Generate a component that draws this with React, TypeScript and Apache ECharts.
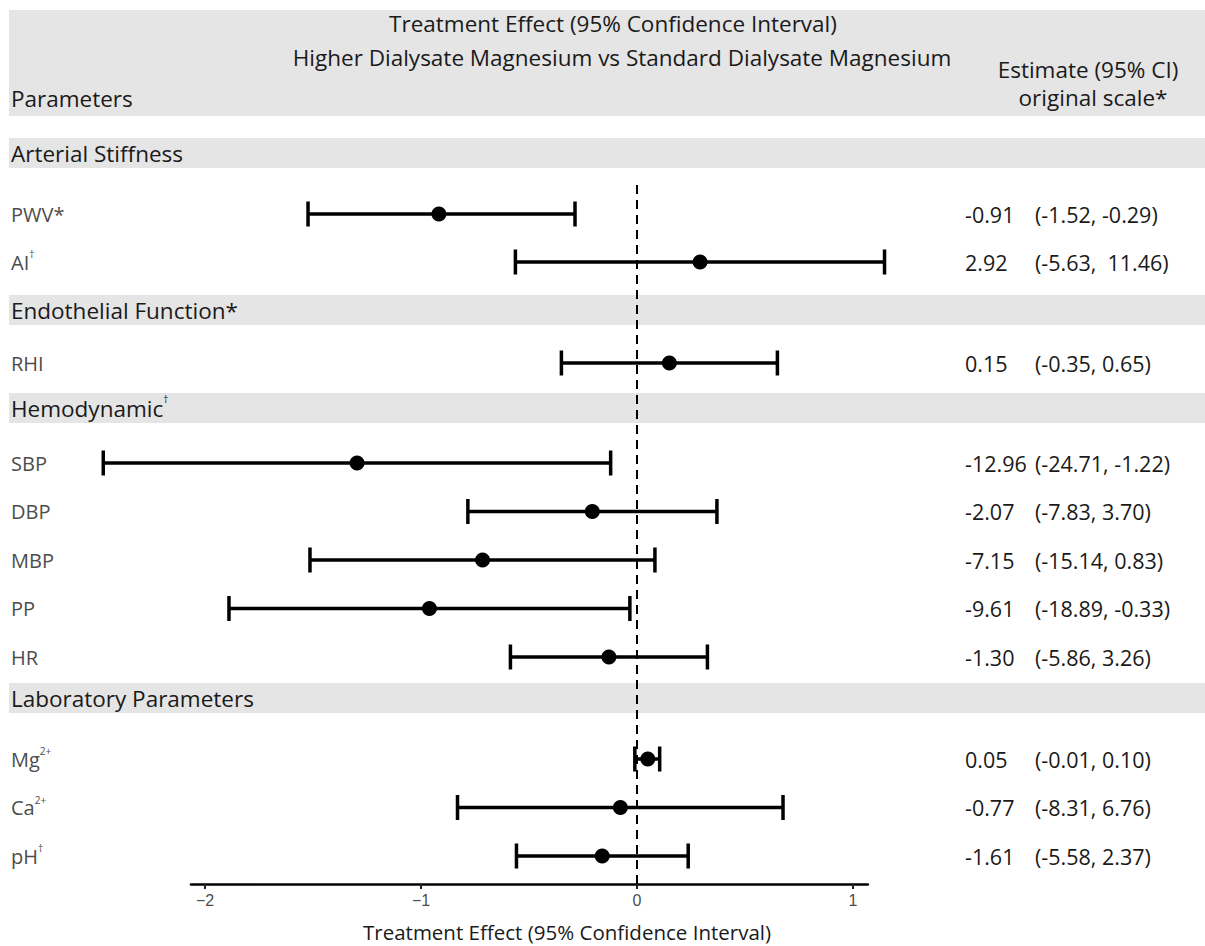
import React, { useEffect, useRef } from "react";
import * as echarts from "echarts";

// ---- data ----
const groupNames = ["Arterial Stiffness", "Endothelial Function*", "Hemodynamic^†", "Laboratory Parameters"];
const groupSizes = [2, 1, 5, 3];
const paramNames = ["PWV*", "AI^†", "RHI", "SBP", "DBP", "MBP", "PP", "HR", "Mg^2+", "Ca^2+", "pH^†"];
const estimate = [-0.917, 0.292, 0.15, -1.296, -0.207, -0.715, -0.961, -0.13, 0.05, -0.077, -0.161];
const lower = [-1.523, -0.563, -0.35, -2.471, -0.783, -1.514, -1.889, -0.586, -0.01, -0.831, -0.558];
const upper = [-0.287, 1.146, 0.65, -0.122, 0.37, 0.083, -0.033, 0.326, 0.105, 0.676, 0.237];
const estText = ["-0.91", "2.92", "0.15", "-12.96", "-2.07", "-7.15", "-9.61", "-1.30", "0.05", "-0.77", "-1.61"];
const ciText = [
  "(-1.52, -0.29)", "(-5.63,  11.46)", "(-0.35, 0.65)", "(-24.71, -1.22)", "(-7.83, 3.70)",
  "(-15.14, 0.83)", "(-18.89, -0.33)", "(-5.86, 3.26)", "(-0.01, 0.10)", "(-8.31, 6.76)", "(-5.58, 2.37)",
];
const xTicks = [-2, -1, 0, 1];
const headerLine1 = "Treatment Effect (95% Confidence Interval)";
const headerLine2 = "Higher Dialysate Magnesium vs Standard Dialysate Magnesium";
const xTitle = "Treatment Effect (95% Confidence Interval)";

// ---- layout ----
const FONT = "'Open Sans', 'Noto Sans', sans-serif";
const W = 1205;
const H = 946;
const PX0 = 637; // pixel of x = 0
const UNIT = 216; // px per unit
const panelMin = -2.6;
const panelMax = 1.25;
const axisMin = -2.065;
const axisMax = 1.069;
const panelTop = [190, 339, 438.75, 734.75];
const rowH = [48, 48, 48.5, 48.5];
const stripTop = [138, 295, 393, 683];
const stripH = 30;
const bandLeft = 9;

function richLabel(s: string, base: string) {
  const i = s.indexOf("^");
  if (i < 0) return `{${base}|${s}}`;
  return `{${base}|${s.slice(0, i)}}{${base}Sup|${s.slice(i + 1)}}`;
}

export default function App() {
  const ref = useRef<HTMLDivElement>(null);
  useEffect(() => {
    if (!ref.current) return;
    const chart = echarts.init(ref.current, undefined, { renderer: "svg" });

    const panelLeft = PX0 + panelMin * UNIT;
    const panelWidth = (panelMax - panelMin) * UNIT;
    const axisLeft = PX0 + axisMin * UNIT;
    const axisWidth = (axisMax - axisMin) * UNIT;

    const grids: any[] = [
      { left: axisLeft, width: axisWidth, top: 185, height: 699 },
    ];
    const xAxes: any[] = [
      {
        gridIndex: 0,
        type: "value",
        min: axisMin,
        max: axisMax,
        splitLine: { show: false },
        axisLine: { show: true, lineStyle: { color: "#000", width: 2.5 } },
        axisTick: { show: true, customValues: xTicks, length: 5, lineStyle: { color: "#222", width: 2 } },
        axisLabel: {
          show: true,
          customValues: xTicks,
          formatter: (v: number) => String(v).replace("-", "\u2212"),
          color: "#4d4d4d",
          fontSize: 16,
          fontFamily: "'Liberation Sans', Arial, sans-serif",
          margin: 8,
        },
      },
    ];
    const yAxes: any[] = [{ gridIndex: 0, type: "value", min: 0, max: 1, show: false }];
    const series: any[] = [
      {
        type: "scatter",
        xAxisIndex: 0,
        yAxisIndex: 0,
        data: [],
        silent: true,
        markLine: {
          silent: true,
          symbol: "none",
          label: { show: false },
          lineStyle: { color: "#000", width: 2, type: [9, 6] },
          data: [{ xAxis: 0 }],
        },
      },
    ];

    const richLeft = {
      p: { fontSize: 20, color: "#4d4d4d", fontFamily: FONT, lineHeight: 26 },
      pSup: { fontSize: 10, color: "#4d4d4d", fontFamily: FONT, verticalAlign: "top", lineHeight: 14 },
    };
    const richRight = {
      e: { fontSize: 21.5, color: "#1a1a1a", fontFamily: FONT, width: 70 },
      c: { fontSize: 21.5, color: "#1a1a1a", fontFamily: FONT },
    };

    let start = 0;
    groupSizes.forEach((n, g) => {
      const gi = g + 1;
      grids.push({ left: panelLeft, width: panelWidth, top: panelTop[g], height: rowH[g] * n });
      xAxes.push({ gridIndex: gi, type: "value", min: panelMin, max: panelMax, show: false, splitLine: { show: false } });
      const names = paramNames.slice(start, start + n);
      const idx = names.map((_, k) => start + k);
      yAxes.push({
        gridIndex: gi,
        type: "category",
        inverse: true,
        position: "left",
        data: names,
        axisLine: { show: false },
        axisTick: { show: false },
        axisLabel: {
          margin: panelLeft - 11,
          align: "left",
          formatter: (v: string) => richLabel(v, "p"),
          rich: richLeft,
        },
      });
      yAxes.push({
        gridIndex: gi,
        type: "category",
        inverse: true,
        position: "right",
        data: idx.map((k) => estText[k]),
        axisLine: { show: false },
        axisTick: { show: false },
        axisLabel: {
          margin: 965 - (panelLeft + panelWidth),
          align: "left",
          formatter: (_v: string, i: number) => `{e|${estText[idx[i]]}}{c|${ciText[idx[i]]}}`,
          rich: richRight,
        },
      });
      const yIndex = yAxes.length - 2;
      series.push({
        type: "custom",
        xAxisIndex: gi,
        yAxisIndex: yIndex,
        encode: { x: [0, 1], y: 2 },
        data: idx.map((k, j) => [lower[k], upper[k], j]),
        renderItem: (_p: any, api: any) => {
          const a = api.coord([api.value(0), api.value(2)]);
          const b = api.coord([api.value(1), api.value(2)]);
          const h = 12.5;
          const style = { stroke: "#000", lineWidth: 3.5 };
          return {
            type: "group",
            children: [
              { type: "line", shape: { x1: a[0], y1: a[1], x2: b[0], y2: b[1] }, style },
              { type: "line", shape: { x1: a[0], y1: a[1] - h, x2: a[0], y2: a[1] + h }, style },
              { type: "line", shape: { x1: b[0], y1: b[1] - h, x2: b[0], y2: b[1] + h }, style },
            ],
          };
        },
        z: 3,
      });
      series.push({
        type: "scatter",
        xAxisIndex: gi,
        yAxisIndex: yIndex,
        data: idx.map((k, j) => [estimate[k], j]),
        symbol: "circle",
        symbolSize: 15,
        itemStyle: { color: "#000", opacity: 1 },
        z: 4,
      });
      start += n;
    });

    const hdr = { fontSize: 22.5, fontFamily: FONT, fill: "#1a1a1a", verticalAlign: "middle" };
    const graphics: any[] = [
      { type: "rect", shape: { x: bandLeft, y: 10, width: W - bandLeft, height: 106 }, style: { fill: "#e5e5e5" }, z: -10 },
      { type: "text", x: 613, y: 23, style: { ...hdr, text: headerLine1, align: "center" } },
      { type: "text", x: 622, y: 57, style: { ...hdr, text: headerLine2, align: "center" } },
      { type: "text", x: 11, y: 98, style: { ...hdr, text: "Parameters", align: "left" } },
      { type: "text", x: 1088, y: 69, style: { ...hdr, text: "Estimate (95% CI)", align: "center" } },
      { type: "text", x: 1093, y: 97, style: { ...hdr, text: "original scale*", align: "center" } },
      {
        type: "text", x: 567, y: 932,
        style: { text: xTitle, fontSize: 20.5, fontFamily: FONT, fill: "#1a1a1a", align: "center", verticalAlign: "middle" },
      },
    ];
    groupNames.forEach((gname, g) => {
      graphics.push({
        type: "rect",
        shape: { x: bandLeft, y: stripTop[g], width: W - bandLeft, height: stripH },
        style: { fill: "#e5e5e5" },
        z: -10,
      });
      graphics.push({
        type: "text",
        x: 11,
        y: stripTop[g] + stripH / 2,
        style: {
          text: richLabel(gname, "s"),
          align: "left",
          verticalAlign: "middle",
          rich: {
            s: { fontSize: 22.5, fill: "#1a1a1a", fontFamily: FONT, lineHeight: 28 },
            sSup: { fontSize: 10, fill: "#1a1a1a", fontFamily: FONT, verticalAlign: "top", lineHeight: 14 },
          },
        },
        z: -5,
      });
    });

    chart.setOption({
      animation: false,
      backgroundColor: "#fff",
      grid: grids,
      xAxis: xAxes,
      yAxis: yAxes,
      series,
      graphic: { elements: graphics },
    });
    return () => chart.dispose();
  }, []);
  return <div ref={ref} style={{ position: "fixed", left: 0, top: 0, width: W, height: H }} />;
}
